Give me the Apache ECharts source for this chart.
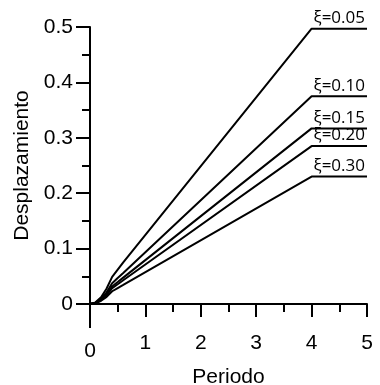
<!DOCTYPE html>
<html>
<head>
<meta charset="utf-8">
<script src="https://cdn.jsdelivr.net/npm/echarts@6/dist/echarts.min.js"></script>
<style>
html,body{margin:0;padding:0;background:#fff;}
#c{width:380px;height:385px;}
</style>
</head>
<body>
<div id="c"></div>
<script>
// Data
var periods = [0, 0.1, 0.2, 0.3, 0.4, 0.5, 0.6, 4, 5];
var d005 = [0, 0.003, 0.012, 0.028, 0.049, 0.062, 0.075, 0.497, 0.497];
var d010 = [0, 0.0023, 0.0093, 0.021, 0.0375, 0.047, 0.056, 0.375, 0.375];
var d015 = [0, 0.002, 0.008, 0.018, 0.0317, 0.0396, 0.0476, 0.317, 0.317];
var d020 = [0, 0.0018, 0.0071, 0.016, 0.0285, 0.0356, 0.0428, 0.285, 0.285];
var d030 = [0, 0.0014, 0.0058, 0.0129, 0.023, 0.0288, 0.0345, 0.230, 0.230];
var seriesNames = ['ξ=0.05', 'ξ=0.10', 'ξ=0.15', 'ξ=0.20', 'ξ=0.30'];
var seriesValues = [d005, d010, d015, d020, d030];
var xTicks = [0, 1, 2, 3, 4, 5];
var yTicks = [0, 0.1, 0.2, 0.3, 0.4, 0.5];

var font = 'Liberation Sans, Arial, sans-serif';
var chart = echarts.init(document.getElementById('c'), null, {renderer: 'canvas'});

function pairs(vals) {
  return periods.map(function (t, i) { return [t, vals[i]]; });
}

var series = seriesValues.map(function (vals, k) {
  return {
    type: 'line',
    name: seriesNames[k],
    data: pairs(vals),
    showSymbol: false,
    symbol: 'none',
    smooth: false,
    lineStyle: {color: '#000', width: 2},
    animation: false,
    endLabel: {
      show: true,
      formatter: seriesNames[k],
      fontFamily: 'Open Sans, sans-serif',
      fontSize: 17,
      color: '#000',
      align: 'right',
      verticalAlign: 'bottom',
      distance: 0,
      offset: [-2, -2]
    }
  };
});

var axisStyle = {color: '#000', width: 2};

chart.setOption({
  animation: false,
  backgroundColor: '#fff',
  grid: {left: 90, right: 13, top: 27, bottom: 81, containLabel: false, outerBoundsMode: 'none'},
  xAxis: {
    type: 'value',
    min: 0, max: 5, interval: 1,
    name: 'Periodo',
    nameLocation: 'middle',
    nameGap: 51,
    nameTextStyle: {fontFamily: font, fontSize: 21, color: '#000'},
    axisLine: {show: true, onZero: false, lineStyle: axisStyle},
    axisTick: {show: true, inside: false, length: 13, lineStyle: axisStyle},
    minorTick: {show: true, splitNumber: 2, length: 8, lineStyle: axisStyle},
    splitLine: {show: false},
    axisLabel: {
      fontFamily: font, fontSize: 21, color: '#000', margin: 29,
      showMinLabel: true, showMaxLabel: true,
      formatter: function (v) { return v === 0 ? '{z|0}' : String(v); },
      rich: {z: {fontFamily: font, fontSize: 21, color: '#000', padding: [8, 0, 0, 0]}}
    }
  },
  yAxis: {
    type: 'value',
    min: 0, max: 0.5, interval: 0.1,
    name: 'Desplazamiento',
    nameLocation: 'middle',
    nameGap: 56,
    nameTextStyle: {fontFamily: font, fontSize: 21, color: '#000'},
    axisLine: {show: true, onZero: false, lineStyle: axisStyle},
    axisTick: {show: true, inside: false, length: 14, lineStyle: axisStyle},
    minorTick: {show: true, splitNumber: 2, length: 8, lineStyle: axisStyle},
    splitLine: {show: false},
    axisLabel: {
      fontFamily: font, fontSize: 21, color: '#000', margin: 17,
      showMinLabel: true, showMaxLabel: true,
      formatter: function (v) { return v === 0 ? '0' : v.toFixed(1); }
    }
  },
  series: series
});

var o = chart.convertToPixel({gridIndex: 0}, [0, 0]);
chart.setOption({
  graphic: [{
    type: 'line',
    shape: {x1: o[0], y1: o[1], x2: o[0], y2: o[1] + 24},
    style: {stroke: '#000', lineWidth: 2}
  }]
});
</script>
</body>
</html>
